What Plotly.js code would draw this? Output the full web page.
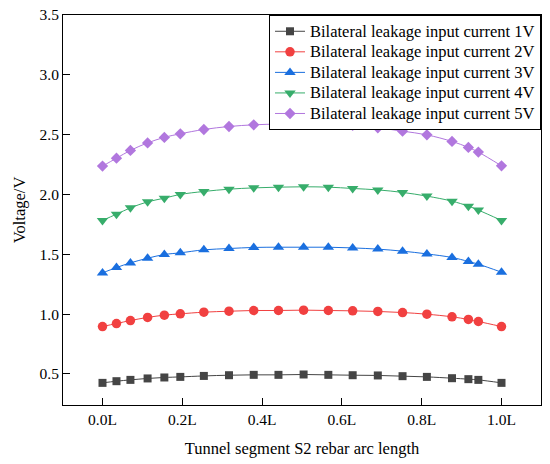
<!DOCTYPE html>
<html>
<head>
<meta charset="utf-8">
<script src="https://cdn.plot.ly/plotly-3.0.1.min.js"></script>
<style>html,body{margin:0;padding:0;background:#fff;}#chart{width:550px;height:464px;}</style>
</head>
<body>
<div id="chart"></div>
<script>
var arcLength = [0, 0.035, 0.07, 0.113, 0.155, 0.195, 0.254, 0.317, 0.379, 0.441, 0.504, 0.566, 0.627, 0.69, 0.752, 0.813, 0.876, 0.917, 0.942, 1.0];
var current1V = [0.425,0.439,0.450,0.462,0.470,0.475,0.483,0.489,0.492,0.492,0.495,0.492,0.489,0.487,0.481,0.475,0.464,0.456,0.450,0.425];
var current2V = [0.896,0.921,0.946,0.972,0.991,1.002,1.016,1.024,1.030,1.030,1.033,1.030,1.027,1.022,1.013,0.999,0.977,0.955,0.938,0.896];
var current3V = [1.344,1.389,1.428,1.467,1.498,1.512,1.537,1.548,1.557,1.559,1.559,1.559,1.553,1.543,1.526,1.503,1.473,1.440,1.417,1.350];
var current4V = [1.783,1.835,1.888,1.938,1.969,2.000,2.025,2.044,2.055,2.061,2.064,2.061,2.050,2.038,2.017,1.986,1.944,1.902,1.869,1.783];
var current5V = [2.237,2.303,2.368,2.431,2.477,2.507,2.543,2.568,2.582,2.588,2.588,2.588,2.577,2.557,2.529,2.498,2.443,2.393,2.354,2.239];
var seriesNames = ["Bilateral leakage input current 1V","Bilateral leakage input current 2V","Bilateral leakage input current 3V","Bilateral leakage input current 4V","Bilateral leakage input current 5V"];
var xTickVals = [0, 0.2, 0.4, 0.6, 0.8, 1.0];
var xTickText = ["0.0L","0.2L","0.4L","0.6L","0.8L","1.0L"];
var yTickVals = [0.5, 1.0, 1.5, 2.0, 2.5, 3.0, 3.5];

var seriesValues = [current1V, current2V, current3V, current4V, current5V];
var colors = ["#454545", "#F14040", "#1A6FDF", "#37AD6B", "#B177DE"];
var symbols = ["square", "circle", "triangle-up", "triangle-down", "diamond"];
var sizes = [8, 9.5, 10, 10, 8.7];

var traces = seriesValues.map(function (vals, i) {
  return {
    x: arcLength,
    y: vals,
    name: '<span style="font-size:16.5px">' + seriesNames[i] + '</span>',
    type: "scatter",
    mode: "lines+markers",
    line: {color: colors[i], width: 1, shape: "spline"},
    marker: {symbol: symbols[i], size: sizes[i], color: colors[i]}
  };
});

var font = "Liberation Serif";
var layout = {
  width: 550, height: 464,
  margin: {l: 63, r: 9, t: 15, b: 59},
  paper_bgcolor: "#fff", plot_bgcolor: "#fff",
  font: {family: font, size: 15, color: "#000"},
  showlegend: true,
  legend: {
    x: 1, y: 1, xanchor: "right", yanchor: "top",
    bordercolor: "#000", borderwidth: 1, bgcolor: "#fff",
    font: {family: font, size: 13.5, color: "#000"},
    tracegroupgap: 0
  },
  xaxis: {
    range: [-0.099, 1.099],
    tickvals: xTickVals, ticktext: xTickText,
    ticks: "inside", ticklen: 7, tickwidth: 1, tickcolor: "#000",
    showline: true, linecolor: "#000", linewidth: 1, mirror: true,
    showgrid: false, zeroline: false,
    tickfont: {family: font, size: 15.5},
    title: {text: "Tunnel segment S2 rebar arc length", font: {family: font, size: 16.5}, standoff: 15}
  },
  yaxis: {
    range: [0.24, 3.5],
    tickvals: yTickVals,
    tickformat: ".1f",
    ticks: "inside", ticklen: 7, tickwidth: 1, tickcolor: "#000",
    showline: true, linecolor: "#000", linewidth: 1, mirror: true,
    showgrid: false, zeroline: false,
    tickfont: {family: font, size: 15.5},
    title: {text: "Voltage/V", font: {family: font, size: 16.5}, standoff: 9}
  }
};

Plotly.newPlot("chart", traces, layout, {displayModeBar: false, staticPlot: true});
</script>
</body>
</html>
